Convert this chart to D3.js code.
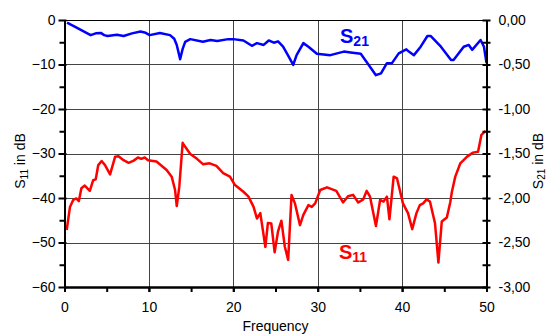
<!DOCTYPE html>
<html>
<head>
<meta charset="utf-8">
<script src="https://cdn.jsdelivr.net/npm/d3@7"></script>
<style>
  html, body { margin: 0; padding: 0; background: #fff; }
  svg { display: block; font-family: Arial, "Liberation Sans", sans-serif; }
</style>
</head>
<body>
<svg id="chart" width="548" height="334"></svg>
<script>
// S21, right axis units (dB, 0 .. -3)
const s21Freq = [0.3, 1.6, 3.1, 3.7, 4.3, 4.7, 5.1, 6.2, 7.0, 8.0, 9.0, 9.5, 10.1, 11.3, 12.5, 13.0, 13.3, 13.7, 14.0, 14.3,
  14.9, 16.4, 17.3, 18.1, 19.4, 20.0, 21.2, 22.2, 22.8, 23.6, 24.2, 24.8, 25.3, 25.9, 26.5, 27.1, 27.5, 28.3, 28.9, 29.9,
  31.5, 33.1, 33.9, 35.1, 35.9, 36.9, 37.5, 38.2, 38.8, 39.6, 40.5, 40.8, 41.4, 42.2, 43.0, 43.4, 44.6, 45.8, 46.1, 47.3,
  47.9, 48.3, 49.3, 49.7, 50.0];
const s21Val = [-0.03, -0.095, -0.17, -0.15, -0.145, -0.17, -0.18, -0.165, -0.18, -0.15, -0.13, -0.14, -0.17, -0.145, -0.17, -0.21, -0.28, -0.44, -0.325, -0.245,
  -0.215, -0.245, -0.225, -0.235, -0.215, -0.215, -0.23, -0.29, -0.26, -0.28, -0.23, -0.255, -0.24, -0.30, -0.40, -0.505, -0.395, -0.26, -0.30, -0.38,
  -0.395, -0.355, -0.365, -0.38, -0.485, -0.62, -0.60, -0.485, -0.485, -0.375, -0.33, -0.355, -0.395, -0.30, -0.18, -0.18, -0.30, -0.45, -0.45, -0.30,
  -0.28, -0.335, -0.225, -0.30, -0.485];

// S11, left axis units (dB)
const s11Freq = [0.26, 0.65, 1.04, 1.4, 1.7, 2.0, 2.4, 3.0, 3.4, 3.7, 4.0, 4.4, 4.8, 5.4, 6.0, 6.4, 7.0, 7.6, 8.2, 8.7,
  9.1, 9.5, 9.9, 10.9, 12.1, 12.7, 13.1, 13.3, 13.6, 14.0, 14.3, 14.9, 15.7, 16.4, 17.2, 18.0, 18.8, 19.6, 20.2, 21.2,
  21.8, 22.4, 22.8, 23.2, 23.8, 24.1, 24.5, 24.9, 25.3, 25.7, 26.1, 26.5, 26.9, 27.3, 27.9, 28.3, 28.9, 29.3, 29.7, 30.3,
  31.1, 32.2, 33.0, 33.6, 34.2, 34.8, 35.4, 35.8, 36.2, 36.9, 37.4, 37.8, 38.2, 38.5, 39.0, 39.4, 40.1, 40.7, 41.2, 41.7,
  42.1, 42.5, 42.9, 43.3, 43.9, 44.3, 44.7, 45.3, 45.7, 45.9, 46.3, 46.9, 47.7, 48.4, 49.0, 49.4, 49.9];
const s11Val = [-47.2, -42.0, -40.4, -40.1, -40.7, -37.8, -37.2, -38.4, -36.0, -35.8, -32.6, -31.7, -32.6, -34.7, -30.7, -30.6, -31.5, -32.1, -31.6, -30.9,
  -31.2, -30.9, -31.5, -31.8, -33.7, -35.2, -38.2, -41.8, -37.5, -27.6, -28.5, -30.1, -31.2, -32.4, -32.2, -32.8, -34.4, -35.2, -37.1, -38.6,
  -39.7, -42.0, -44.6, -43.4, -51.0, -45.6, -45.7, -52.2, -47.5, -45.1, -50.9, -53.9, -39.3, -41.2, -46.1, -43.8, -41.6, -42.0, -41.2, -38.2,
  -37.6, -38.4, -41.0, -39.6, -39.3, -41.0, -40.3, -38.4, -39.7, -46.3, -40.4, -40.8, -39.7, -44.8, -35.2, -35.6, -41.2, -43.4, -47.0, -43.4,
  -41.6, -41.2, -40.3, -40.8, -45.7, -54.5, -45.3, -44.4, -41.0, -38.6, -35.2, -32.2, -30.7, -29.8, -29.6, -25.8, -24.9];

const xTicks = [0, 10, 20, 30, 40, 50];
const yLeftTicks = [0, -10, -20, -30, -40, -50, -60];
const yRightTicks = [0, -0.5, -1, -1.5, -2, -2.5, -3];

// ──────────────────────────────────────────────────────────────────────────────

const svg = d3.select('#chart');
const plot = { left: 64.5, right: 486.5, top: 20, bottom: 287 };

const x = d3.scaleLinear().domain([0, 50]).range([plot.left, plot.right]);
const yL = d3.scaleLinear().domain([-60, 0]).range([plot.bottom, plot.top]);
const yR = d3.scaleLinear().domain([-3, 0]).range([plot.bottom, plot.top]);

// Grid
const grid = svg.append('g').attr('stroke', '#444').attr('stroke-width', 1);
grid.selectAll('line.v')
  .data(xTicks.slice(1, -1))
  .join('line')
  .attr('x1', d => Math.round(x(d)) + 0.5).attr('x2', d => Math.round(x(d)) + 0.5)
  .attr('y1', plot.top).attr('y2', plot.bottom);
grid.selectAll('line.h')
  .data(yLeftTicks.slice(0, -1))
  .join('line')
  .attr('x1', plot.left).attr('x2', plot.right)
  .attr('y1', d => Math.round(yL(d)) + 0.5).attr('y2', d => Math.round(yL(d)) + 0.5)
  .attr('stroke', d => d === 0 ? '#000' : null);

// Series
const line = d3.line().x(d => x(d[0])).y(d => d[1]);
svg.append('path')
  .attr('d', line(s11Freq.map((f, i) => [f, yL(s11Val[i])])))
  .attr('fill', 'none').attr('stroke', '#ff0000').attr('stroke-width', 2.5)
  .attr('stroke-linejoin', 'round');
svg.append('path')
  .attr('d', line(s21Freq.map((f, i) => [f, yR(s21Val[i])])))
  .attr('fill', 'none').attr('stroke', '#0000ff').attr('stroke-width', 2.5)
  .attr('stroke-linejoin', 'round');

// Axes
function styleAxis(g) {
  g.select('.domain').attr('stroke', '#000').attr('stroke-width', 2);
  g.selectAll('.tick line').attr('stroke', '#000').attr('stroke-width', 2);
  g.selectAll('.tick text').attr('fill', '#000').style('font-size', '14px');
}

// left
svg.append('g')
  .attr('transform', `translate(${plot.left},0)`)
  .call(d3.axisLeft(yL).tickValues(d3.range(-55, 0, 10)).tickSize(5).tickFormat('').tickSizeOuter(0))
  .call(styleAxis);
svg.append('g')
  .attr('transform', `translate(${plot.left},0)`)
  .call(d3.axisLeft(yL).tickValues(yLeftTicks).tickSize(6).tickPadding(3).tickSizeOuter(0))
  .call(styleAxis)
  .call(g => g.selectAll('.tick line').attr('x2', -6).attr('x1', 2));

// bottom
svg.append('g')
  .attr('transform', `translate(0,${plot.bottom})`)
  .call(d3.axisBottom(x).tickValues(d3.range(0, 51, 5)).tickSize(5).tickFormat('').tickSizeOuter(0))
  .call(styleAxis);
svg.append('g')
  .attr('transform', `translate(0,${plot.bottom})`)
  .call(d3.axisBottom(x).tickValues(xTicks).tickSize(5).tickPadding(10).tickSizeOuter(0))
  .call(styleAxis);

// right
const fmtR = d => d3.format('.2f')(d).replace('.', ',').replace('−', '-');
svg.append('g')
  .attr('transform', `translate(${plot.right},0)`)
  .call(d3.axisRight(yR).tickValues(d3.range(-2.75, 0, 0.5)).tickSize(4).tickFormat('').tickSizeOuter(0))
  .call(styleAxis)
  .call(g => g.selectAll('.tick line').attr('x1', -4));
svg.append('g')
  .attr('transform', `translate(${plot.right},0)`)
  .call(d3.axisRight(yR).tickValues(yRightTicks).tickSize(4).tickPadding(8).tickFormat(fmtR).tickSizeOuter(0))
  .call(styleAxis)
  .call(g => g.selectAll('.tick line').attr('x1', -4));

// Axis titles
function subLabel(sel, base, sub, rest, shift, subSize) {
  sel.append('tspan').text(base);
  sel.append('tspan').text(sub).attr('dy', shift).style('font-size', subSize + 'px');
  if (rest) sel.append('tspan').text(rest).attr('dy', -shift);
}

svg.append('text')
  .attr('transform', 'translate(25,161) rotate(-90)')
  .attr('text-anchor', 'middle').style('font-size', '14px')
  .call(t => subLabel(t, 'S', '11', ' in dB', 3, 10));
svg.append('text')
  .attr('transform', 'translate(543,161) rotate(-90)')
  .attr('text-anchor', 'middle').style('font-size', '14px')
  .call(t => subLabel(t, 'S', '21', ' in dB', 2, 10));
svg.append('text')
  .attr('x', (plot.left + plot.right) / 2).attr('y', 331)
  .attr('text-anchor', 'middle').style('font-size', '14px')
  .text('Frequency');

// Series labels
svg.append('text')
  .attr('x', 340).attr('y', 43)
  .attr('fill', '#0000ff').style('font-size', '20px').style('font-weight', 'bold')
  .call(t => subLabel(t, 'S', '21', null, 3, 14));
svg.append('text')
  .attr('x', 339).attr('y', 259)
  .attr('fill', '#ff0000').style('font-size', '20px').style('font-weight', 'bold')
  .call(t => subLabel(t, 'S', '11', null, 3, 14));
</script>
</body>
</html>
